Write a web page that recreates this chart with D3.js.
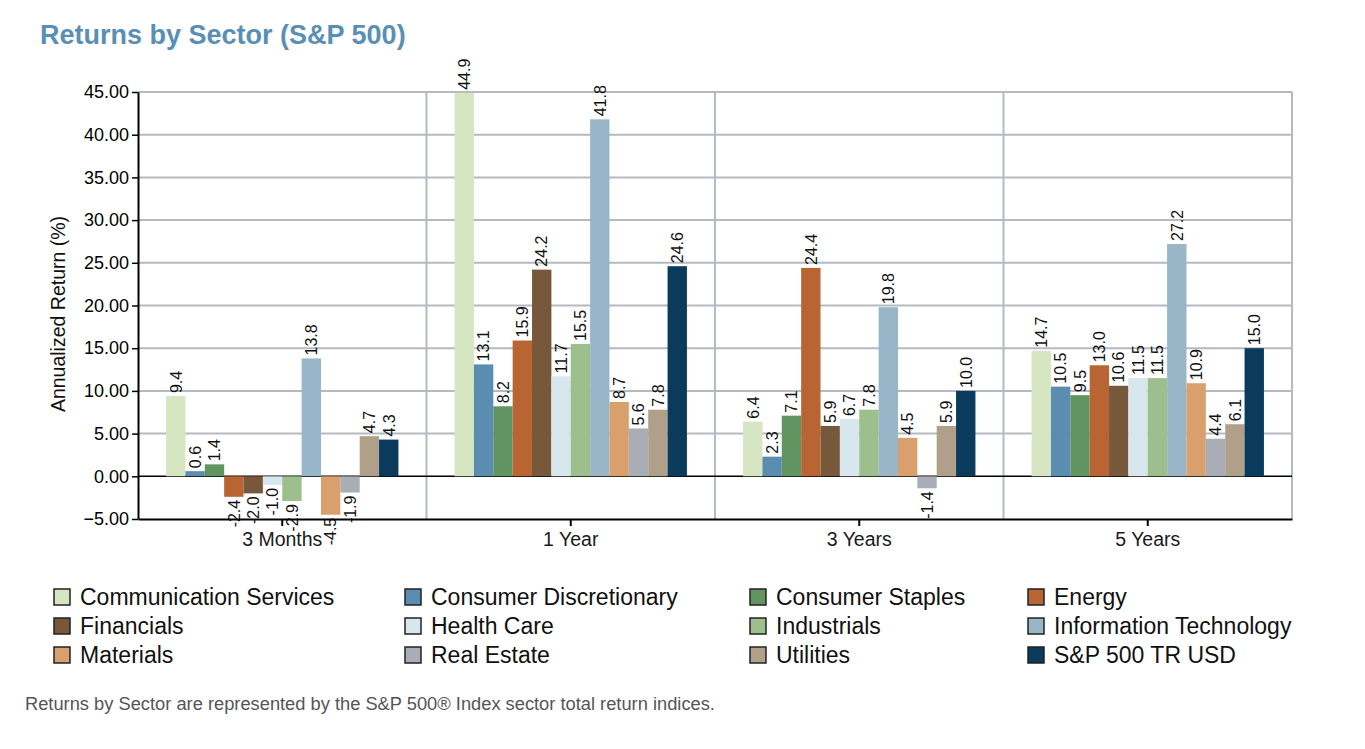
<!DOCTYPE html>
<html><head><meta charset="utf-8">
<script src="https://cdn.jsdelivr.net/npm/d3@7"></script>
<style>body{margin:0;background:#fff;font-family:Arial,"Liberation Sans",sans-serif;}</style>
</head><body><svg id="c" width="1365" height="749"></svg>
<script>
const periods = ["3 Months", "1 Year", "3 Years", "5 Years"];
const sectors = ["Communication Services","Consumer Discretionary","Consumer Staples","Energy","Financials","Health Care","Industrials","Information Technology","Materials","Real Estate","Utilities","S&P 500 TR USD"];
const colors = ["#d6e6c3","#5b8db1","#629462","#b86533","#77583b","#d8e6ee","#9dbf8e","#99b5c8","#d9a06e","#a9adb5","#b1a089","#0a3a5c"];
const months3 = [9.4, 0.6, 1.4, -2.4, -2.0, -1.0, -2.9, 13.8, -4.5, -1.9, 4.7, 4.3];
const year1 = [44.9, 13.1, 8.2, 15.9, 24.2, 11.7, 15.5, 41.8, 8.7, 5.6, 7.8, 24.6];
const years3 = [6.4, 2.3, 7.1, 24.4, 5.9, 6.7, 7.8, 19.8, 4.5, -1.4, 5.9, 10.0];
const years5 = [14.7, 10.5, 9.5, 13.0, 10.6, 11.5, 11.5, 27.2, 10.9, 4.4, 6.1, 15.0];
const yTicks = [-5,0,5,10,15,20,25,30,35,40,45];

const seriesByPeriod = [months3, year1, years3, years5];
const FONT = "Arial, 'Liberation Sans', sans-serif";
const svg = d3.select("#c");
const L = 138, R = 1292, T = 92, B = 519;
const x0 = d3.scaleBand().domain(periods).range([L, R]).padding(0);
const x1 = d3.scaleBand().domain(sectors).range([0, x0.bandwidth()]).paddingOuter(1.45).paddingInner(0);
const y = d3.scaleLinear().domain([-5, 45]).range([B, T]);

// title
svg.append("text").attr("x", 40).attr("y", 44).attr("font-size", 27).attr("font-weight", "bold")
  .attr("fill", "#5a8fb5").text("Returns by Sector (S&P 500)");

// horizontal grid
svg.append("g").selectAll("line").data(yTicks.filter(d => d !== -5 && d !== 0)).join("line")
  .attr("x1", L).attr("x2", R).attr("y1", d => y(d)).attr("y2", d => y(d))
  .attr("stroke", "#b5b9c1").attr("stroke-width", 2);
// vertical grid (group boundaries)
svg.append("g").selectAll("line").data(periods.slice(1).concat(["__end"])).join("line")
  .attr("x1", d => d === "__end" ? R : x0(d)).attr("x2", d => d === "__end" ? R : x0(d))
  .attr("y1", T).attr("y2", B).attr("stroke", "#b5b9c1").attr("stroke-width", 2);

// zero line
svg.append("line").attr("x1", L).attr("x2", R).attr("y1", y(0)).attr("y2", y(0))
  .attr("stroke", "#000").attr("stroke-width", 1.5);

// bars
const groups = svg.append("g").selectAll("g").data(periods).join("g")
  .attr("transform", d => `translate(${x0(d)},0)`);
groups.selectAll("rect").data((p, i) => seriesByPeriod[i].map((v, j) => ({s: sectors[j], v, c: colors[j]})))
  .join("rect")
  .attr("x", d => x1(d.s)).attr("width", x1.bandwidth())
  .attr("y", d => y(Math.max(0, d.v))).attr("height", d => Math.abs(y(d.v) - y(0)))
  .attr("fill", d => d.c);

// value labels
groups.selectAll("text").data((p, i) => seriesByPeriod[i].map((v, j) => ({s: sectors[j], v})))
  .join("text")
  .attr("transform", d => {
    const cx = x1(d.s) + x1.bandwidth() / 2;
    const yy = d.v >= 0 ? y(d.v) - 3 : y(d.v) + 3;
    return `translate(${cx},${yy}) rotate(-90)`;
  })
  .attr("text-anchor", d => d.v >= 0 ? "start" : "end")
  .attr("dy", "0.36em")
  .attr("font-size", 16).attr("fill", "#111")
  .text(d => d.v.toFixed(1));

// y axis
const yAxis = d3.axisLeft(y).tickValues(yTicks).tickFormat(d3.format(".2f")).tickSize(6).tickSizeOuter(0);
const ya = svg.append("g").attr("transform", `translate(${L},0)`).call(yAxis);
ya.select(".domain").attr("stroke", "#000").attr("stroke-width", 2);
ya.selectAll(".tick line").attr("stroke", "#000").attr("stroke-width", 1.5);
ya.selectAll(".tick text").attr("font-size", 18).attr("fill", "#000").attr("font-family", FONT).attr("x", -9);

// x axis
const xAxis = d3.axisBottom(x0).tickSize(7).tickSizeOuter(0);
const xa = svg.append("g").attr("transform", `translate(0,${B})`).call(xAxis);
xa.select(".domain").attr("stroke", "#000").attr("stroke-width", 2);
xa.selectAll(".tick line").attr("stroke", "#000").attr("stroke-width", 2);
xa.selectAll(".tick text").attr("font-size", 19.5).attr("fill", "#1a1a1a").attr("font-family", FONT).attr("y", 13);

// y axis title
svg.append("text").attr("transform", `translate(65,314) rotate(-90)`)
  .attr("text-anchor", "middle").attr("font-size", 19.5).attr("fill", "#111").text("Annualized Return (%)");

// legend
const legX = [54, 405, 750, 1028];
const legY = [597, 626, 655];
const leg = svg.append("g").selectAll("g").data(sectors).join("g")
  .attr("transform", (d, i) => `translate(${legX[i % 4]},${legY[Math.floor(i / 4)]})`);
leg.append("rect").attr("x", 0).attr("y", -8).attr("width", 16).attr("height", 16)
  .attr("fill", (d, i) => colors[i]).attr("stroke", "#222").attr("stroke-width", 1.5);
leg.append("text").attr("x", 26).attr("y", 0).attr("dy", "0.36em").attr("font-size", 23)
  .attr("fill", "#111").text(d => d);

// footnote
svg.append("text").attr("x", 25).attr("y", 710).attr("font-size", 18.3).attr("fill", "#555")
  .text("Returns by Sector are represented by the S&P 500® Index sector total return indices.");
</script></body></html>
